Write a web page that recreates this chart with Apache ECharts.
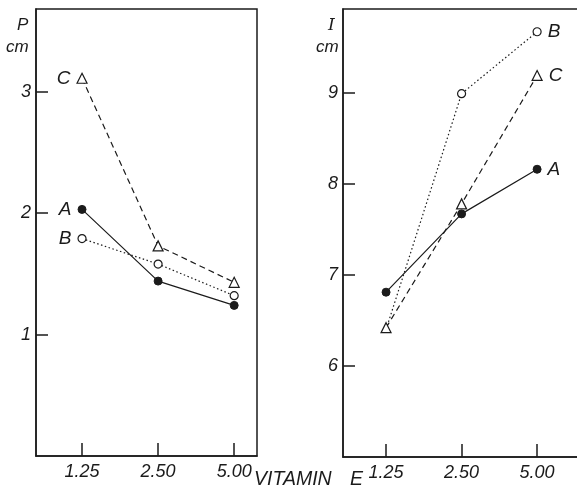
<!DOCTYPE html>
<html>
<head>
<meta charset="utf-8">
<script src="https://cdn.jsdelivr.net/npm/echarts@6/dist/echarts.min.js"></script>
<style>
  html, body { margin: 0; padding: 0; background: #fff; }
  #chart { width: 577px; height: 498px; }
</style>
</head>
<body>
<div id="chart"></div>
<script>
  // vitamin E doses (categories) and their x positions
  var categories = ['1.25', '2.50', '5.00'];
  var catPos = [1, 2, 3];

  // left panel: P (cm)
  var pA = [2.03, 1.44, 1.24];
  var pB = [1.79, 1.58, 1.32];
  var pC = [3.11, 1.73, 1.43];
  var pTicks = [1, 2, 3];

  // right panel: I (cm)
  var iA = [6.81, 7.67, 8.16];
  var iB = [6.40, 8.99, 9.67];
  var iC = [6.42, 7.78, 9.19];
  var iTicks = [6, 7, 8, 9];

  var ink = '#1b1b1b';
  var font = 'Liberation Sans';

  function pts(vals, tag, where, hideFirst) {
    return vals.map(function (v, i) {
      var item = { value: [catPos[i], v] };
      if (i === where) {
        item.label = {
          show: true, formatter: tag,
          position: where === 0 ? 'left' : 'right', distance: 6,
          color: ink, fontSize: 19, fontStyle: 'italic', fontFamily: font
        };
      }
      if (hideFirst && i === 0) item.symbol = 'none';
      return item;
    });
  }

  function series(idx, vals, kind, tag, where, hideFirst) {
    var s = {
      type: 'line', xAxisIndex: idx, yAxisIndex: idx,
      data: pts(vals, tag, where, hideFirst),
      animation: false, z: 5,
      lineStyle: { color: ink, width: 1.2 }
    };
    if (kind === 'A') {
      s.symbol = 'circle'; s.symbolSize = 8;
      s.itemStyle = { color: ink, borderColor: ink, borderWidth: 1 };
    } else if (kind === 'B') {
      s.symbol = 'circle'; s.symbolSize = 8;
      s.lineStyle.type = [1.5, 2.5];
      s.itemStyle = { color: '#fff', borderColor: ink, borderWidth: 1.2 };
    } else {
      s.symbol = 'triangle'; s.symbolSize = 10;
      s.lineStyle.type = [6, 4];
      s.itemStyle = { color: '#fff', borderColor: ink, borderWidth: 1.2 };
    }
    return s;
  }

  function xAxis(idx, min, max) {
    return {
      type: 'value', gridIndex: idx, min: min, max: max,
      axisLine: { show: true, lineStyle: { color: ink, width: 1.5 } },
      axisTick: { show: true, inside: true, length: 13, customValues: catPos,
                  lineStyle: { color: ink, width: 1.5 } },
      axisLabel: { customValues: catPos, margin: 7, color: ink, fontSize: 18,
                   fontStyle: 'italic', fontFamily: font,
                   formatter: function (v) { return categories[catPos.indexOf(v)] || ''; } },
      splitLine: { show: false }
    };
  }

  function yAxis(idx, min, max, ticks) {
    return {
      type: 'value', gridIndex: idx, min: min, max: max,
      axisLine: { show: true, lineStyle: { color: ink, width: 1.5 } },
      axisTick: { show: true, inside: true, length: 12, customValues: ticks,
                  lineStyle: { color: ink, width: 1.5 } },
      axisLabel: { customValues: ticks, margin: 5, color: ink, fontSize: 18,
                   fontStyle: 'italic', fontFamily: font },
      splitLine: { show: false }
    };
  }

  var chart = echarts.init(document.getElementById('chart'), null, { renderer: 'canvas' });

  chart.setOption({
    backgroundColor: '#fff',
    grid: [
      { left: 36, right: 320, top: 9, bottom: 42, outerBoundsMode: 'none',
        show: true, borderColor: ink, borderWidth: 1.5 },
      // right panel runs off the page, so its right border is not seen
      { left: 343, width: 250, top: 9, bottom: 41, outerBoundsMode: 'none',
        show: true, borderColor: ink, borderWidth: 1.5 }
    ],
    xAxis: [xAxis(0, 0.395, 3.3), xAxis(1, 0.43, 3.74)],
    yAxis: [yAxis(0, 0, 3.68, pTicks), yAxis(1, 5, 9.92, iTicks)],
    series: [
      series(0, pA, 'A', 'A', 0),
      series(0, pB, 'B', 'B', 0),
      series(0, pC, 'C', 'C', 0),
      series(1, iA, 'A', 'A', 2),
      series(1, iB, 'B', 'B', 2, true),
      series(1, iC, 'C', 'C', 2)
    ],
    graphic: [
      { type: 'text', left: 17, top: 17, style: { text: 'P', fill: ink, font: 'italic 17px "' + font + '"' } },
      { type: 'text', left: 6, top: 39, style: { text: 'cm', fill: ink, font: 'italic 17px "' + font + '"' } },
      { type: 'text', left: 328, top: 17, style: { text: 'I', fill: ink, font: 'italic 17px "DejaVu Serif"' } },
      { type: 'text', left: 316, top: 39, style: { text: 'cm', fill: ink, font: 'italic 17px "' + font + '"' } },
      { type: 'text', left: 254, top: 470, style: { text: 'VITAMIN', fill: ink, font: 'italic 19.5px "' + font + '"' } },
      { type: 'text', left: 350, top: 470, style: { text: 'E', fill: ink, font: 'italic 19.5px "' + font + '"' } }
    ]
  });
</script>
</body>
</html>
